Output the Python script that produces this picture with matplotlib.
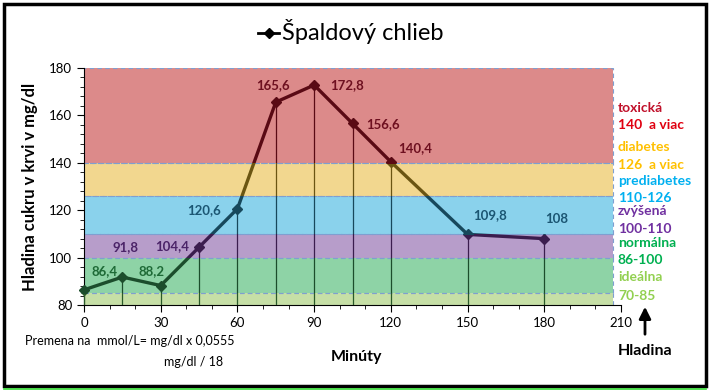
import matplotlib
matplotlib.use("Agg")
import matplotlib.pyplot as plt
from matplotlib.patches import Rectangle, FancyArrowPatch
from matplotlib.lines import Line2D
from matplotlib.ticker import MultipleLocator

plt.rcParams['font.family'] = ['Lato', 'DejaVu Sans']

# Data
minutes = [0, 15, 30, 45, 60, 75, 90, 105, 120, 150, 180]
glucose = [86.4, 91.8, 88.2, 104.4, 120.6, 165.6, 172.8, 156.6, 140.4, 109.8, 108]
labels = ["86,4", "91,8", "88,2", "104,4", "120,6", "165,6", "172,8", "156,6", "140,4", "109,8", "108"]
label_pos = [(8.2, 94.4), (16.4, 104.5), (26.4, 94.4), (34.4, 104.9), (46.9, 120.1),
             (73.9, 172.8), (102.8, 172.8), (116.9, 156.4), (129.4, 146.3), (158.8, 118.0), (184.9, 116.3)]

# zones: (low, high, fill, line colour, label colour)
zones = [
    (80, 85, '#c6dfa6', '#2a5a2a', '#1e6a36'),
    (85, 100, '#8ed3a6', '#1c4d2c', '#1e6a36'),
    (100, 110, '#b79dca', '#3b1d4e', '#4b2468'),
    (110, 126, '#8ad2ec', '#17485c', '#1b5673'),
    (126, 140, '#f2d78f', '#6b5512', '#6b5512'),
    (140, 180, '#dc8a8a', '#5a0a14', '#6e1020'),
]
band_right = 207

legend_texts = [("toxická", '#c0102a'), ("140  a viac", '#e00010'),
                ("diabetes", '#ffc000'), ("126  a viac", '#ffc000'),
                ("prediabetes", '#00b0f0'), ("110-126", '#00b0f0'),
                ("zvýšená", '#7030a0'), ("100-110", '#7030a0'),
                ("normálna", '#00b050'), ("86-100", '#00b050'),
                ("ideálna", '#92d050'), ("70-85", '#92d050')]
legend_y = [108, 125, 147, 165, 181, 198, 211, 229, 243, 260, 277, 296]

W, H = 713, 392
fig = plt.figure(figsize=(W / 100, H / 100), dpi=100)
ax = fig.add_axes([84 / W, 1 - 305 / H, (621 - 84) / W, (305 - 68) / H])
ax.set_xlim(0, 210)
ax.set_ylim(80, 180)

for lo, hi, fc, lc, tc in zones:
    ax.add_patch(Rectangle((0, lo), band_right, hi - lo, facecolor=fc, edgecolor='none', zorder=1))
    ax.add_patch(Rectangle((0, lo), band_right, hi - lo, facecolor='none', edgecolor='#7f9fd0',
                           linestyle=(0, (4, 3)), lw=0.8, zorder=2))

# drop lines and series line coloured per zone via clipping
for lo, hi, fc, lc, tc in zones:
    clip = Rectangle((-5, lo), 220, hi - lo, transform=ax.transData)
    for xv, yv in zip(minutes, glucose):
        l = ax.plot([xv, xv], [80, yv], color=lc, lw=0.9, zorder=3)[0]
        l.set_clip_path(clip)
    ln = ax.plot(minutes, glucose, color=lc, lw=2.4, marker='D', markersize=5.5,
                 solid_joinstyle='round', zorder=4)[0]
    ln.set_clip_on(True)
    ln.set_clip_path(clip)

# point labels, coloured by the zone they sit in
for (lx, ly), lab in zip(label_pos, labels):
    col = '#1e6a36'
    for lo, hi, fc, lc, tc in zones:
        if lo <= ly < hi:
            col = tc
    ax.text(lx, ly, lab, ha='center', va='center', fontsize=9.5, fontweight='bold', color=col, zorder=5)

for s in ['top', 'right']:
    ax.spines[s].set_visible(False)
ax.spines['left'].set_color('#000000')
ax.spines['bottom'].set_color('#000000')
ax.set_xticks(range(0, 211, 30))
ax.set_yticks(range(80, 181, 20))
ax.xaxis.set_minor_locator(MultipleLocator(10))
ax.yaxis.set_minor_locator(MultipleLocator(4))
ax.tick_params(axis='both', which='major', direction='out', length=5, labelsize=9.5, colors='black')
ax.tick_params(axis='both', which='minor', direction='out', length=3)
ax.set_ylabel("Hladina cukru v krvi v mg/dl", fontsize=12, fontweight='bold', labelpad=8)

# right legend texts
for (t, c), yp in zip(legend_texts, legend_y):
    fig.text(618 / W, 1 - yp / H, t, color=c, fontsize=10, fontweight='bold', ha='left', va='center')

# arrow + Hladina
fig.add_artist(FancyArrowPatch((645 / W, 1 - 337 / H), (645 / W, 1 - 304 / H),
                               transform=fig.transFigure, arrowstyle='-|>,head_width=0.25,head_length=0.5',
                               mutation_scale=14, color='black', lw=2))
fig.text(645 / W, 1 - 351 / H, "Hladina", fontsize=11.5, fontweight='bold', ha='center', va='center')

fig.text(357 / W, 1 - 357 / H, "Minúty", fontsize=11.5, fontweight='bold', ha='center', va='center')
fig.text(25 / W, 1 - 341 / H, "Premena na  mmol/L= mg/dl x 0,0555", fontsize=9, ha='left', va='center')
fig.text(164 / W, 1 - 362 / H, "mg/dl / 18", fontsize=9, ha='left', va='center')

# title with legend key
fig.add_artist(Line2D([258 / W, 279 / W], [1 - 33 / H, 1 - 33 / H], transform=fig.transFigure,
                      color='black', lw=2))
fig.add_artist(Line2D([268.5 / W], [1 - 33 / H], transform=fig.transFigure, color='black',
                      marker='D', markersize=5, lw=0))
fig.text(282 / W, 1 - 32 / H, "Špaldový chlieb", fontsize=17, ha='left', va='center')

# outer border
fig.add_artist(Rectangle((4 / W, 1 - 386 / H), 702 / W, 382 / H, transform=fig.transFigure,
                         facecolor='none', edgecolor='black', lw=2.5))
fig.add_artist(Line2D([4 / W, 706 / W], [1 - 389 / H, 1 - 389 / H], transform=fig.transFigure,
                      color='#33dd33', lw=1.2))

fig.savefig("out.png", dpi=100)
